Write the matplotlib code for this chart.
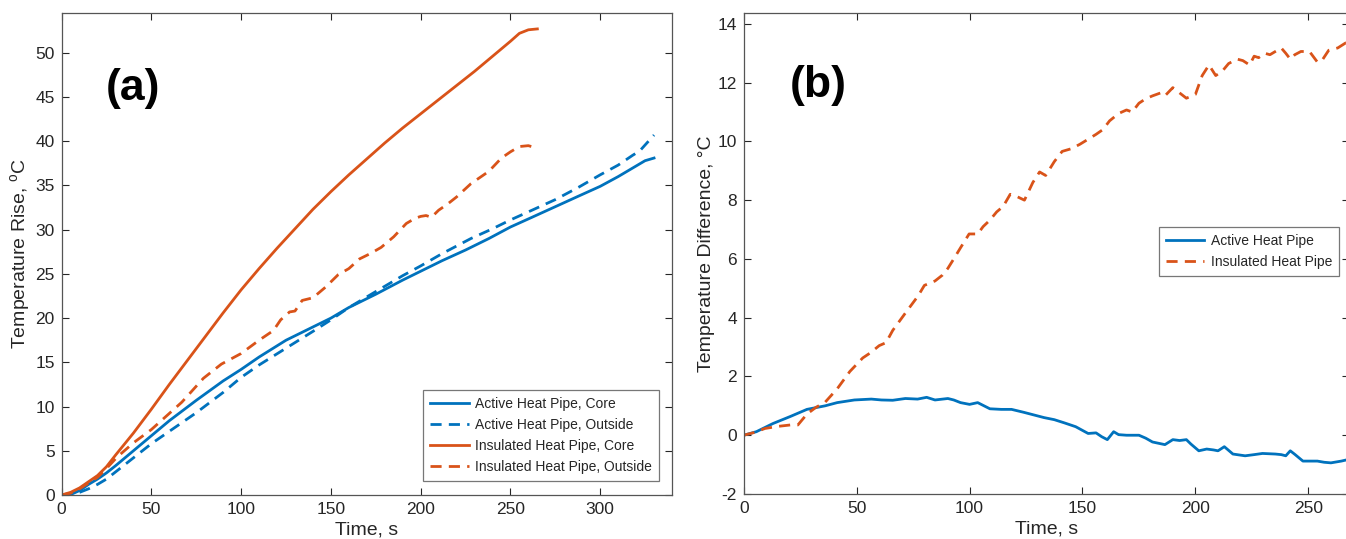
import matplotlib
matplotlib.use("Agg")
import matplotlib.pyplot as plt

FONT = "Liberation Sans"
plt.rcParams["font.family"] = [FONT, "DejaVu Sans"]
plt.rcParams["mathtext.fontset"] = "custom"
plt.rcParams["mathtext.rm"] = FONT
plt.rcParams["axes.unicode_minus"] = False

BLUE = "#0072BD"
ORANGE = "#D95319"

# ---------------- Panel (a) data ----------------
t_ins_core = [0, 5, 10, 20, 25, 30, 40, 50, 60, 70, 80, 90, 100, 110, 120, 130, 140, 150,
              160, 170, 180, 190, 200, 210, 220, 230, 240, 250, 255, 260, 265]
y_ins_core = [0, 0.3, 0.8, 2.2, 3.2, 4.5, 7.0, 9.7, 12.5, 15.2, 17.9, 20.6, 23.2, 25.6, 27.9,
              30.1, 32.3, 34.3, 36.2, 38.0, 39.8, 41.5, 43.1, 44.7, 46.3, 47.9, 49.6, 51.3,
              52.2, 52.6, 52.7]

t_ins_out = [0, 5, 10, 20, 25, 31, 40, 50, 67, 79, 89, 100, 110, 118, 122, 127, 130, 134, 140,
             147, 154, 160, 166, 172, 178, 185, 192, 197, 200, 203, 206, 210, 215, 220, 228,
             238, 245, 250, 255, 260, 265]
y_ins_out = [0, 0.2, 0.7, 2.0, 3.0, 4.3, 5.9, 7.4, 10.5, 13.2, 14.8, 16.0, 17.5, 18.6, 19.8,
             20.7, 20.8, 22.0, 22.3, 23.5, 24.9, 25.6, 26.7, 27.3, 28.0, 29.2, 30.7, 31.3,
             31.5, 31.6, 31.4, 32.2, 32.9, 33.7, 35.2, 36.6, 38.1, 38.8, 39.4, 39.5, 39.2]

t_act_core = [0, 5, 10, 15, 20, 25, 30, 40, 50, 60, 75, 90, 100, 110, 125, 130, 140, 150, 160,
              175, 190, 200, 212, 225, 238, 250, 262, 275, 288, 300, 310, 320, 325, 330]
y_act_core = [0, 0.05, 0.5, 1.2, 1.8, 2.5, 3.3, 5.0, 6.7, 8.4, 10.7, 12.9, 14.2, 15.6, 17.5,
              18.0, 19.0, 20.0, 21.2, 22.7, 24.3, 25.3, 26.5, 27.7, 29.0, 30.3, 31.4, 32.6,
              33.8, 34.9, 36.0, 37.2, 37.8, 38.1]

t_act_out = [0, 5, 10, 15, 20, 25, 30, 40, 50, 60, 75, 90, 100, 110, 125, 140, 150, 160, 175,
             190, 200, 212, 228, 240, 250, 262, 275, 288, 300, 310, 318, 322, 326, 330]
y_act_out = [0, 0.0, 0.3, 0.7, 1.2, 1.8, 2.6, 4.2, 5.8, 7.2, 9.3, 11.6, 13.3, 14.7, 16.6,
             18.5, 19.8, 21.2, 23.0, 24.8, 25.9, 27.3, 29.0, 30.1, 31.1, 32.2, 33.4, 34.8,
             36.2, 37.3, 38.4, 38.9, 39.8, 40.7]

# ---------------- Panel (b) data ----------------
t_b_ins = [0, 5, 9.4, 15, 20.7, 24, 28, 32, 36, 41.4, 47, 52.7, 56, 60, 63, 66, 71.6, 77.2,
           80, 84.7, 88, 90.4, 93, 96, 99.8, 103.6, 106, 109, 112, 114.9, 118, 120.5, 124.3,
           128, 131, 133.7, 137.5, 141, 145, 148.8, 152, 156, 159, 162, 166, 169.5, 172, 175,
           178, 181, 184.6, 186.5, 190, 193, 196, 200, 203, 206, 209, 212, 214.7, 218.5, 221,
           224, 226, 228, 230.7, 233, 235.4, 238, 240, 242, 244, 246.7, 250.5, 254, 256, 259,
           263, 266.5, 270]
y_b_ins = [0, 0.1, 0.23, 0.3, 0.35, 0.35, 0.72, 0.95, 1.12, 1.58, 2.17, 2.63, 2.8, 3.05, 3.15,
           3.57, 4.16, 4.74, 5.1, 5.25, 5.45, 5.68, 6.0, 6.38, 6.85, 6.85, 7.1, 7.32, 7.6, 7.79,
           8.2, 8.14, 8.0, 8.6, 8.96, 8.84, 9.31, 9.66, 9.75, 9.9, 10.05, 10.24, 10.4, 10.7,
           10.95, 11.07, 11.0, 11.3, 11.45, 11.55, 11.65, 11.55, 11.83, 11.65, 11.47, 11.6, 12.24,
           12.6, 12.24, 12.4, 12.65, 12.8, 12.75, 12.6, 12.9, 12.85, 13.0, 12.95, 13.06, 13.18,
           13.0, 12.8, 12.95, 13.06, 13.06, 12.7, 12.75, 13.1, 13.18, 13.35, 13.35]

t_b_act = [0, 5.6, 13, 20.7, 28, 36, 41.4, 49, 56.5, 61, 66, 71.6, 77, 81, 84.7, 90.4, 93,
           96, 100, 103.6, 109, 114, 118.6, 124, 128, 133, 137.5, 142, 147, 152.5, 156, 158.5,
           161, 163.8, 166, 169.5, 175, 178, 181, 186.5, 190, 193, 196, 198, 201.5, 205,
           208, 210, 212.8, 216.6, 222, 226, 229.7, 235.4, 238, 240, 242, 244, 247.6, 254,
           257, 260, 264.6, 268]
y_b_act = [0, 0.12, 0.4, 0.64, 0.88, 1.0, 1.11, 1.2, 1.23, 1.2, 1.19, 1.25, 1.23, 1.29, 1.2,
           1.25, 1.2, 1.11, 1.05, 1.11, 0.9, 0.88, 0.88, 0.78, 0.7, 0.6, 0.53, 0.42, 0.29, 0.06,
           0.08, -0.05, -0.15, 0.12, 0.02, 0.0, 0.0, -0.1, -0.23, -0.32, -0.15, -0.18, -0.15,
           -0.3, -0.53, -0.47, -0.5, -0.53, -0.39, -0.64, -0.7, -0.66, -0.62, -0.64, -0.66,
           -0.7, -0.53, -0.65, -0.88, -0.88, -0.92, -0.94, -0.88, -0.82]

xticks_a = [0, 50, 100, 150, 200, 250, 300]
yticks_a = [0, 5, 10, 15, 20, 25, 30, 35, 40, 45, 50]
xticks_b = [0, 50, 100, 150, 200, 250]
yticks_b = [-2, 0, 2, 4, 6, 8, 10, 12, 14]

W, H = 1346, 539
fig = plt.figure(figsize=(W / 100, H / 100), dpi=100)

axA = fig.add_axes([61.6 / W, 1 - 495 / H, (672 - 61.6) / W, (495 - 13) / H])
axB = fig.add_axes([743.7 / W, 1 - 494 / H, (1349 - 743.7) / W, (494 - 12.7) / H])

LW = 2.0
DASH = (4.0, 2.6)
axA.plot(t_act_core, y_act_core, color=BLUE, lw=LW, label="Active Heat Pipe, Core")
axA.plot(t_act_out, y_act_out, color=BLUE, lw=LW, dashes=DASH, label="Active Heat Pipe, Outside")
axA.plot(t_ins_core, y_ins_core, color=ORANGE, lw=LW, label="Insulated Heat Pipe, Core")
axA.plot(t_ins_out, y_ins_out, color=ORANGE, lw=LW, dashes=DASH, label="Insulated Heat Pipe, Outside")

axB.plot(t_b_act, y_b_act, color=BLUE, lw=LW, label="Active Heat Pipe")
axB.plot(t_b_ins, y_b_ins, color=ORANGE, lw=LW, dashes=DASH, label="Insulated Heat Pipe")

axA.set_xlim(0, 340)
axA.set_ylim(0, 54.5)
axB.set_xlim(0, 268)
axB.set_ylim(-2, 14.38)
axA.set_xticks(xticks_a)
axA.set_yticks(yticks_a)
axB.set_xticks(xticks_b)
axB.set_yticks(yticks_b)

TICK_FS = 12.5
for ax in (axA, axB):
    ax.tick_params(direction="in", length=5, width=0.8, top=True, right=True,
                   labelsize=TICK_FS, colors="#262626", pad=5)
    for s in ax.spines.values():
        s.set_color("#555555")
        s.set_linewidth(0.9)

LAB_FS = 14
axA.set_xlabel("Time, s", fontsize=LAB_FS, color="#262626")
axB.set_xlabel("Time, s", fontsize=LAB_FS, color="#262626")
axA.set_ylabel(r"Temperature Rise, $^{\mathrm{o}}$C", fontsize=LAB_FS, color="#262626")
axB.set_ylabel("Temperature Difference, °C", fontsize=LAB_FS, color="#262626")
axA.xaxis.set_label_coords(0.5, -0.054)
axB.xaxis.set_label_coords(0.5, -0.056)
axA.yaxis.set_label_coords(-0.047, 0.5)
axB.yaxis.set_label_coords(-0.047, 0.5)

axA.text(40, 46, "(a)", fontsize=32, fontweight="bold", ha="center", va="center")
axB.text(33, 11.9, "(b)", fontsize=32, fontweight="bold", ha="center", va="center")

leg_kw = dict(loc="lower right", borderaxespad=0, fancybox=False, edgecolor="#555555",
              fontsize=10, handlelength=2.8, labelspacing=0.5, handletextpad=0.45,
              borderpad=0.5)
legA = axA.legend(bbox_to_anchor=(0.979, 0.029), **leg_kw)
legB = axB.legend(bbox_to_anchor=(0.9835, 0.453), **leg_kw)
for leg in (legA, legB):
    leg.get_frame().set_linewidth(0.9)
    for txt in leg.get_texts():
        txt.set_color("#262626")

fig.savefig("out.png", dpi=100)
